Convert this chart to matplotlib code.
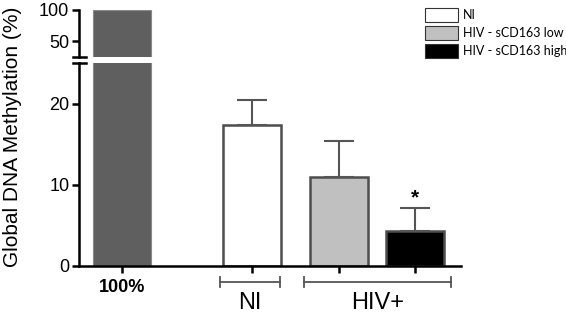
import matplotlib.pyplot as plt
import matplotlib.transforms as mtransforms
from matplotlib.patches import Patch

plt.rcParams['font.family'] = ['Liberation Sans', 'DejaVu Sans']

# data
groups = ["NI", "HIV - sCD163 low", "HIV - sCD163 high"]
means = [17.4, 11.0, 4.3]
sems = [3.0, 4.4, 2.9]
ref_value = 100
ref_label = "100%"
colors = ["white", "#c0c0c0", "black"]
group_labels = ["NI", "HIV+"]

ref_x = 0
xs = [2.25, 3.75, 5.05]
w = 1.0
edge = "#4d4d4d"

fig = plt.figure(figsize=(5.66, 3.15), dpi=100)
left, width = 79 / 566, 382 / 566
ax = fig.add_axes([left, 49 / 315, width, 203 / 315])
axt = fig.add_axes([left, 258 / 315, width, 47 / 315], sharex=ax)

for a in (ax, axt):
    a.bar(ref_x, ref_value, w, color="#5f5f5f", edgecolor="#8a8a8a", linewidth=0.8)
    for s in ("top", "right"):
        a.spines[s].set_visible(False)
    a.spines["left"].set_linewidth(1.8)
    a.tick_params(axis="y", width=1.8, length=5, labelsize=13, pad=2)

for x, m, e, c in zip(xs, means, sems, colors):
    ax.bar(x, m, w, color=c, edgecolor=edge, linewidth=1.8)
    ax.errorbar(x, m, yerr=[[0], [e]], fmt="none", ecolor="#555555",
                elinewidth=1.5, capsize=10.5, capthick=1.5)

ax.text(xs[2], means[2] + sems[2] + 1.2, "*", ha="center", va="center",
        fontsize=15, fontweight="bold")

ax.set_xlim(-0.74, 5.85)
ax.set_ylim(0, 25)
ax.set_yticks([0, 10, 20])
axt.set_ylim(25, 100)
axt.set_yticks([50, 100])
axt.spines["bottom"].set_visible(False)
axt.tick_params(axis="x", bottom=False, labelbottom=False)

ax.spines["bottom"].set_linewidth(1.8)
ax.set_xticks([ref_x] + xs)
ax.set_xticklabels([ref_label, "", "", ""])
ax.tick_params(axis="x", width=1.8, length=5, labelsize=13, pad=4)
ax.get_xticklabels()[0].set_fontweight("bold")

# axis break marks
for yb in (57, 63):
    fig.add_artist(plt.Line2D([73 / 566, 86 / 566], [1 - yb / 315, 1 - yb / 315],
                              color="black", lw=1.8))

# group brackets below the axis
tr = mtransforms.blended_transform_factory(ax.transData, ax.transAxes)
spans = [(xs[0] - 0.55, xs[0] + 0.48), (xs[1] - 0.6, xs[2] + 0.62)]
yb = -0.078
for (x0, x1), lab in zip(spans, group_labels):
    ax.plot([x0, x1], [yb, yb], color="#555555", lw=1.3, transform=tr, clip_on=False)
    for xe in (x0, x1):
        ax.plot([xe, xe], [yb - 0.025, yb + 0.025], color="#555555", lw=1.3,
                transform=tr, clip_on=False)
    ax.text((x0 + x1) / 2, yb - 0.05, lab, transform=tr, ha="center", va="top",
            fontsize=17)

fig.text(13 / 566, 1 - 137 / 315, "Global DNA Methylation (%)", rotation=90,
         ha="center", va="center", fontsize=15)

handles = [Patch(facecolor=c, edgecolor="#333333", linewidth=0.8) for c in colors]
fig.legend(handles, groups, loc="upper left", bbox_to_anchor=(420 / 566, 1 - 3 / 315),
           frameon=False, prop={"family": "Lato", "size": 9}, handlelength=2.6,
           handleheight=1.3, handletextpad=0.4, labelspacing=0.35, borderaxespad=0)

fig.savefig("out.png", dpi=100)
